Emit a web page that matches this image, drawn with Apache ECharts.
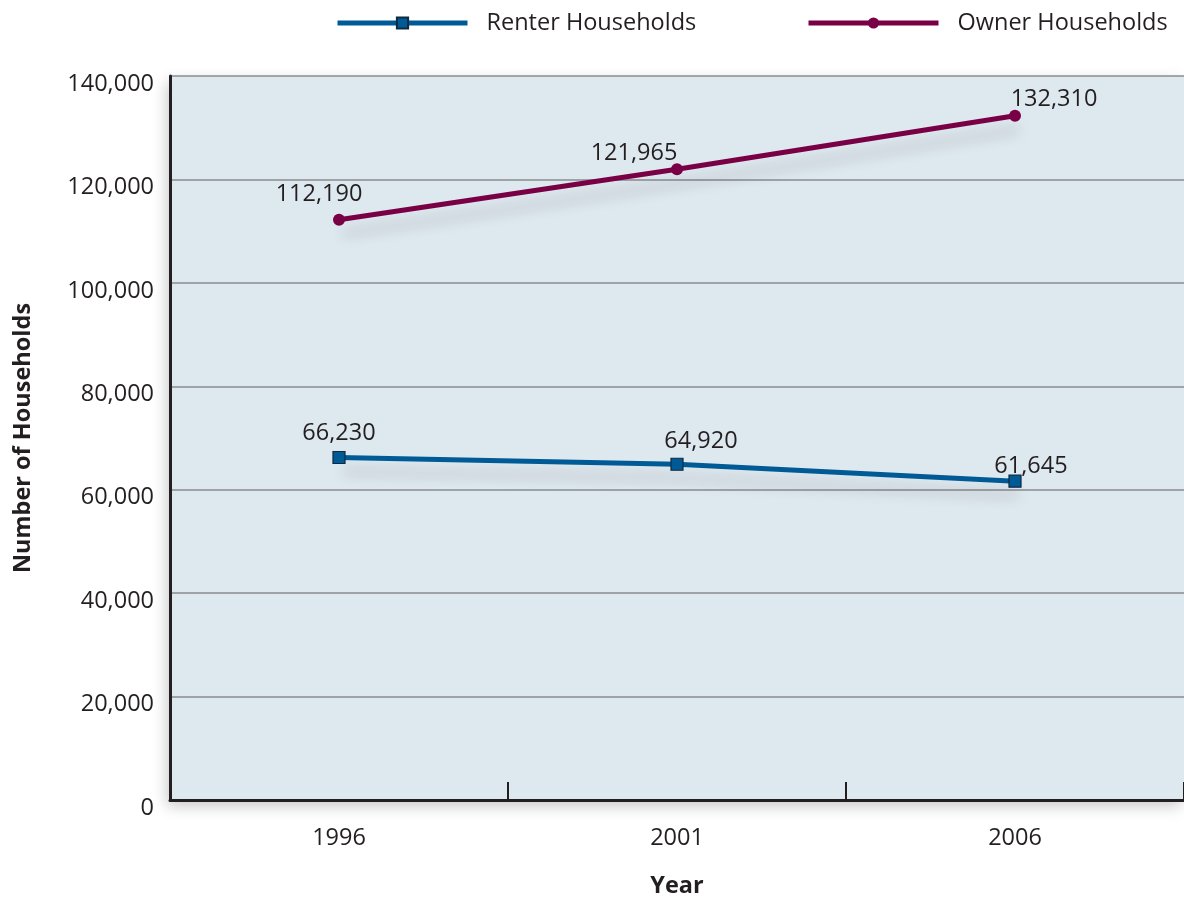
<!DOCTYPE html>
<html><head><meta charset="utf-8">
<script src="https://cdn.jsdelivr.net/npm/echarts@6/dist/echarts.min.js"></script>
<style>html,body{margin:0;padding:0;background:#fff}#c{width:1184px;height:899px}</style>
</head><body><div id="c"></div>
<script>
const years = ['1996', '2001', '2006'];
const renter = [66230, 64920, 61645];
const owner = [112190, 121965, 132310];
const renterLabelOffsets = [[0, 0], [24, 2], [16, 10]];
const ownerLabelOffsets = [[-20, -2], [-43, 8], [39, 8]];
const seriesNames = ['Renter Households', 'Owner Households'];

const FONT = '"Open Sans", "Noto Sans", sans-serif';
const TXT = '#231f20';
const FS = 23.5;
const fmt = v => v.toLocaleString('en-US');

function mkData(vals, offs) {
  return vals.map((v, i) => ({ value: v, label: { offset: offs[i] } }));
}
const lineShadow = { shadowBlur: 14, shadowColor: 'rgba(0,0,0,0.18)', shadowOffsetY: 14, shadowOffsetX: 4 };
const legendBase = {
  top: 11, padding: 0, itemWidth: 130, itemHeight: 14,
  lineStyle: { width: 5 },
  textStyle: { fontFamily: FONT, fontSize: FS, color: TXT, padding: [0, 0, 0, 14] }
};

const chart = echarts.init(document.getElementById('c'), null, { renderer: 'canvas' });
chart.setOption({
  animation: false,
  backgroundColor: '#ffffff',
  textStyle: { fontFamily: FONT },
  legend: [
    Object.assign({ left: 335, data: [seriesNames[0]] }, legendBase),
    Object.assign({ left: 806, data: [seriesNames[1]] }, legendBase)
  ],
  grid: {
    left: 170, right: 0, top: 76, bottom: 99, show: true,
    containLabel: false, outerBoundsMode: 'none',
    backgroundColor: '#dee8ef', borderWidth: 0,
    shadowBlur: 14, shadowColor: 'rgba(0,0,0,0.22)', shadowOffsetX: -3, shadowOffsetY: 6
  },
  xAxis: {
    type: 'category', data: years, boundaryGap: true,
    name: 'Year', nameLocation: 'middle', nameGap: 74,
    nameTextStyle: { fontFamily: FONT, fontSize: FS, fontWeight: 'bold', color: TXT },
    axisLine: { lineStyle: { color: '#231f20', width: 3 } },
    axisTick: { show: true, inside: true, length: 18, alignWithLabel: false, lineStyle: { color: '#231f20', width: 2 } },
    axisLabel: { fontFamily: FONT, fontSize: FS, color: TXT, margin: 26 }
  },
  yAxis: {
    type: 'value', min: 0, max: 140000, interval: 20000,
    name: 'Number of Households', nameLocation: 'middle', nameGap: 135,
    nameTextStyle: { fontFamily: FONT, fontSize: FS, fontWeight: 'bold', color: TXT },
    axisLine: { show: true, lineStyle: { color: '#231f20', width: 3 } },
    axisTick: { show: false },
    splitLine: { lineStyle: { color: '#8a8d90', width: 1.5 } },
    axisLabel: { fontFamily: FONT, fontSize: FS, color: TXT, margin: 16, verticalAlign: 'top', lineHeight: 16, formatter: v => fmt(v) }
  },
  series: [
    {
      name: seriesNames[0], type: 'line', data: mkData(renter, renterLabelOffsets),
      symbol: 'rect', symbolSize: 12,
      itemStyle: { color: '#005a96', borderColor: '#0d2a40', borderWidth: 1.2 },
      lineStyle: Object.assign({ color: '#005a96', width: 5 }, lineShadow),
      label: { show: true, position: 'top', distance: 6, fontFamily: FONT, fontSize: FS, color: TXT, formatter: p => fmt(p.value) },
      z: 3
    },
    {
      name: seriesNames[1], type: 'line', data: mkData(owner, ownerLabelOffsets),
      symbol: 'circle', symbolSize: 12,
      itemStyle: { color: '#7a0046' },
      lineStyle: Object.assign({ color: '#7a0046', width: 5 }, lineShadow),
      label: { show: true, position: 'top', distance: 6, fontFamily: FONT, fontSize: FS, color: TXT, formatter: p => fmt(p.value) },
      z: 3
    }
  ]
});
</script></body></html>
